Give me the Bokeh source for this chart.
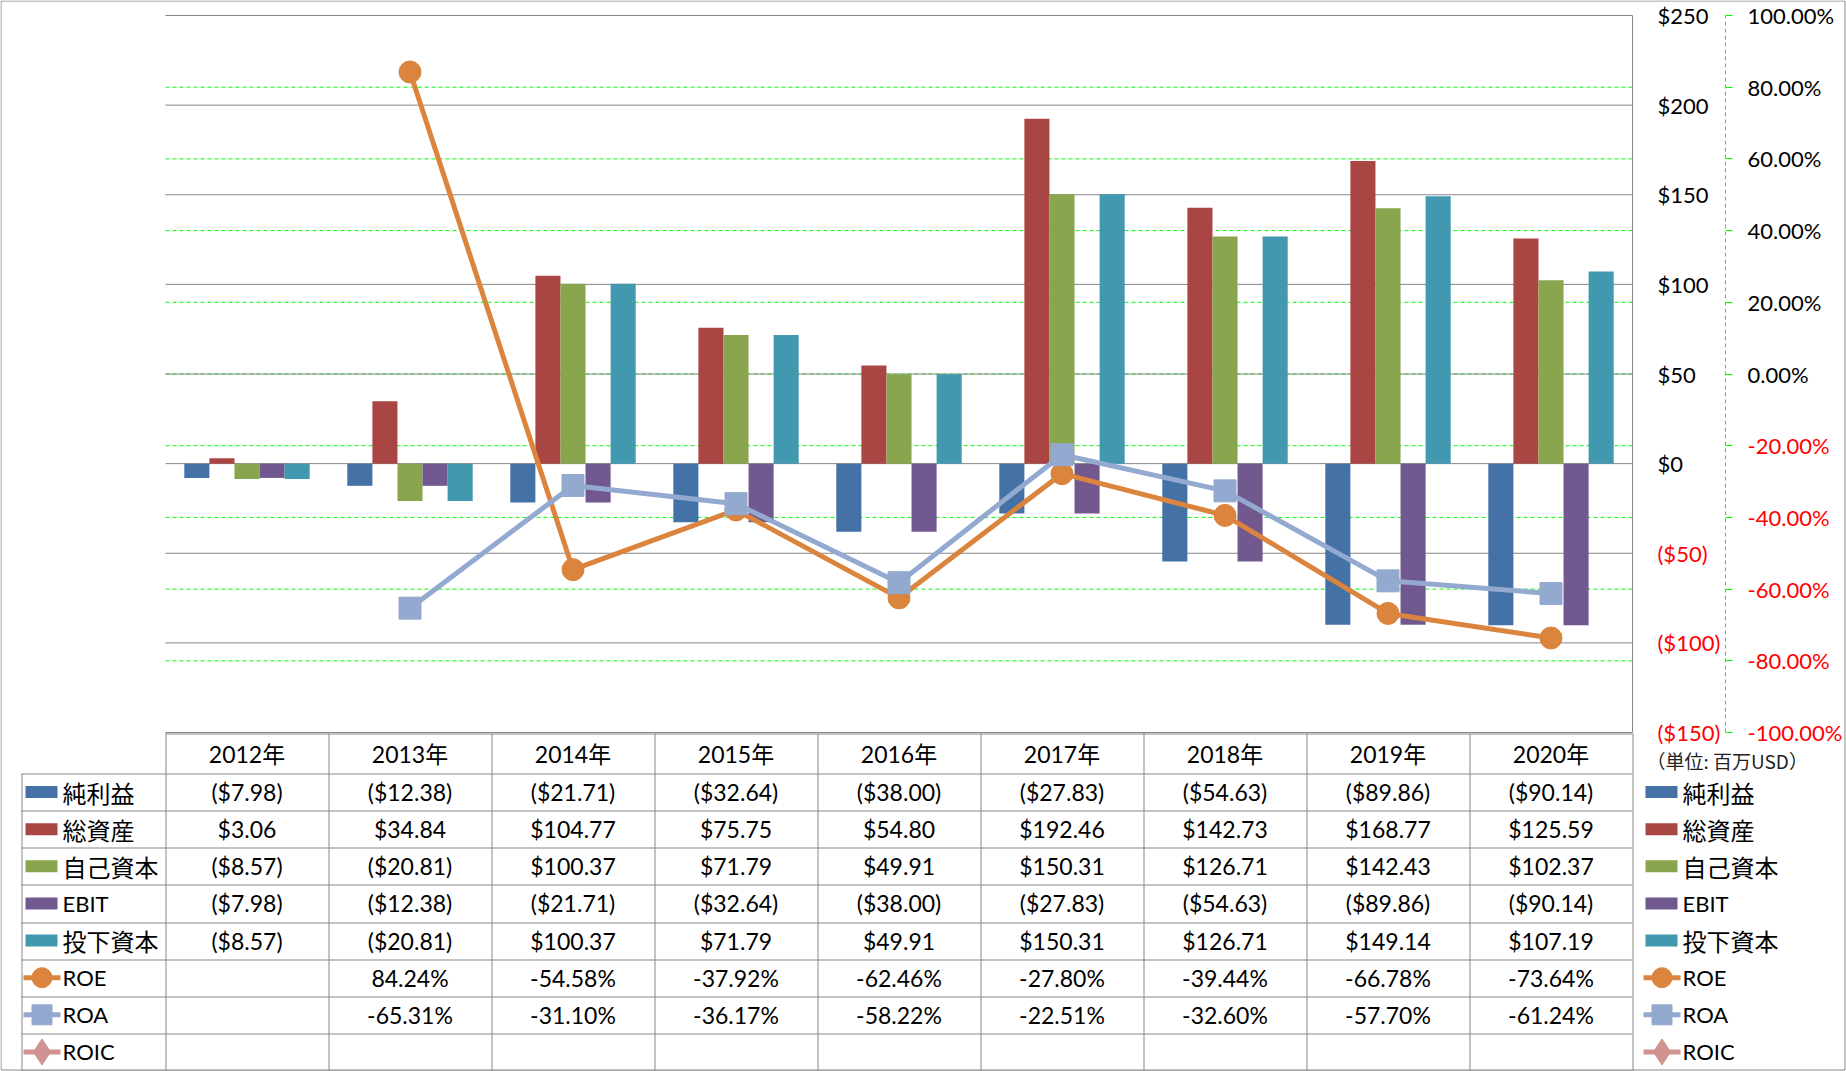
from bokeh.plotting import figure
from bokeh.models import Range1d, LinearAxis, FixedTicker
from bokeh.core.properties import value
from bokeh.embed import file_html
from bokeh.resources import INLINE

# ---------------- data ----------------
years = ["2012年", "2013年", "2014年", "2015年", "2016年", "2017年", "2018年", "2019年", "2020年"]
net_income = [-7.98, -12.38, -21.71, -32.64, -38.00, -27.83, -54.63, -89.86, -90.14]
total_assets = [3.06, 34.84, 104.77, 75.75, 54.80, 192.46, 142.73, 168.77, 125.59]
equity = [-8.57, -20.81, 100.37, 71.79, 49.91, 150.31, 126.71, 142.43, 102.37]
ebit = [-7.98, -12.38, -21.71, -32.64, -38.00, -27.83, -54.63, -89.86, -90.14]
invested_capital = [-8.57, -20.81, 100.37, 71.79, 49.91, 150.31, 126.71, 149.14, 107.19]
roe = [None, 84.24, -54.58, -37.92, -62.46, -27.80, -39.44, -66.78, -73.64]
roa = [None, -65.31, -31.10, -36.17, -58.22, -22.51, -32.60, -57.70, -61.24]
roic = [None, None, None, None, None, None, None, None, None]

usd_ticks = [250, 200, 150, 100, 50, 0, -50, -100, -150]
usd_tick_labels = ["$250", "$200", "$150", "$100", "$50", "$0", "($50)", "($100)", "($150)"]
pct_ticks = [1.0, 0.8, 0.6, 0.4, 0.2, 0.0, -0.2, -0.4, -0.6, -0.8, -1.0]
pct_tick_labels = ["100.00%", "80.00%", "60.00%", "40.00%", "20.00%", "0.00%",
                   "-20.00%", "-40.00%", "-60.00%", "-80.00%", "-100.00%"]
unit_label = "（単位: 百万USD）"

bar_series = [("純利益", net_income, "#4471A6"),
              ("総資産", total_assets, "#A94644"),
              ("自己資本", equity, "#89A54E"),
              ("EBIT", ebit, "#71588F"),
              ("投下資本", invested_capital, "#4198AF")]
line_series = [("ROE", roe, "#DB843D", "circle"),
               ("ROA", roa, "#93A9CF", "square"),
               ("ROIC", roic, "#D19392", "diamond")]

# ---------------- layout (page pixels) ----------------
W, H = 1846, 1071
OX, OY = 0, 0
PL, PR, PT, PB = 165, 1632, 15, 732
NCAT = len(years)
CW = (PR - PL) / NCAT
KY = (PB - PT) / 400.0
KP = (PB - PT) / 2.0
GRAY = "#878787"
LAT = value("Lato")
MIX = value("Lato, 'Noto Sans CJK JP'")
CJK = value("'Noto Sans CJK JP'")

p = figure(width=W, height=H, output_backend="svg", toolbar_location=None,
           x_range=Range1d((OX - PL) / CW, (OX + W - PL) / CW),
           y_range=Range1d(250 - (OY + H - PT) / KY, 250 + (PT - OY) / KY),
           x_axis_location=None, y_axis_location=None, min_border=0)
p.extra_y_ranges = {"pct": Range1d(1 - (OY + H - PT) / KP, 1 + (PT - OY) / KP),
                    "py": Range1d(OY + H, OY)}
p.extra_x_ranges = {"px": Range1d(OX, OX + W)}
p.grid.visible = False
p.outline_line_color = None
p.background_fill_color = "white"
p.border_fill_color = "white"

# gridlines
gp = [t for t in pct_ticks if abs(t) < 1]
p.segment(x0=[0] * len(gp), x1=[NCAT] * len(gp), y0=gp, y1=gp, y_range_name="pct",
          line_color="#00FF00", line_width=1, line_dash="4 3")
p.segment(x0=[0] * len(usd_ticks), x1=[NCAT] * len(usd_ticks), y0=usd_ticks, y1=usd_ticks,
          line_color=GRAY, line_width=1)

# bars
bw = 1 / 6.5
for k, (name, vals, col) in enumerate(bar_series):
    xs = [i + 0.5 + (k - 2) * bw for i in range(NCAT)]
    p.vbar(x=xs, top=vals, bottom=0, width=bw, fill_color=col, line_color=None)

# lines
for name, vals, col, mk in line_series:
    xs = [i + 0.5 for i, v in enumerate(vals) if v is not None]
    ys = [v / 100 for v in vals if v is not None]
    if not xs:
        continue
    p.line(x=xs, y=ys, y_range_name="pct", line_color=col, line_width=5)
    p.scatter(x=xs, y=ys, y_range_name="pct", marker=mk, size=22,
              fill_color=col, line_color=col, line_width=1)

# axes (right side, fixed locations)
def make_axis(ticks, labels, color, loc, rng=None, keep=lambda t: True, **kw):
    ax = LinearAxis(ticker=FixedTicker(ticks=ticks), fixed_location=loc,
                    major_label_overrides={t: (l if keep(t) else "") for t, l in zip(ticks, labels)},
                    major_label_text_font="Lato", major_label_text_font_size="22px",
                    major_label_text_color=color, minor_tick_line_color=None, **kw)
    if rng:
        ax.y_range_name = rng
    p.add_layout(ax, "right")
    return ax

make_axis(usd_ticks, usd_tick_labels, "black", NCAT, keep=lambda t: t >= 0,
          axis_line_color=GRAY, bounds=(-150, 250), major_tick_line_color=None,
          major_tick_out=0, major_tick_in=0, major_label_standoff=25)
make_axis(usd_ticks, usd_tick_labels, "#FF0000", NCAT, keep=lambda t: t < 0,
          axis_line_color=None, major_tick_line_color=None,
          major_tick_out=0, major_tick_in=0, major_label_standoff=25)
sec_loc = (1725 - PL) / CW
make_axis(pct_ticks, pct_tick_labels, "black", sec_loc, rng="pct", keep=lambda t: t >= 0,
          axis_line_color="#00FF00", axis_line_dash="4 3", bounds=(-1, 1),
          major_tick_line_color="#00FF00", major_tick_out=7, major_tick_in=0,
          major_label_standoff=15)
make_axis(pct_ticks, pct_tick_labels, "#FF0000", sec_loc, rng="pct", keep=lambda t: t < 0,
          axis_line_color=None, major_tick_line_color=None,
          major_tick_out=0, major_tick_in=0, major_label_standoff=22)

# ---------------- data table ----------------
HT, HB = 733, 773
TB = OY + H - 1
RH = (TB - HB) / 8
LX = 21
col_edges = [PL + j * CW for j in range(NCAT + 1)]
row_edges = [HB + i * RH for i in range(9)]

sx0, sx1, sy0, sy1 = [], [], [], []
sx0 += [PL]; sx1 += [PR]; sy0 += [HT + 0.5]; sy1 += [HT + 0.5]
for ry in row_edges:
    sx0.append(LX); sx1.append(PR); sy0.append(round(ry) + 0.5); sy1.append(round(ry) + 0.5)
sx0.append(LX + 0.5); sx1.append(LX + 0.5); sy0.append(HB); sy1.append(TB)
for cx in col_edges:
    x = round(cx) + 0.5
    sx0.append(x); sx1.append(x); sy0.append(HT); sy1.append(TB)
p.segment(x0=sx0, x1=sx1, y0=sy0, y1=sy1, x_range_name="px", y_range_name="py",
          line_color=GRAY, line_width=1)

def money(v):
    return f"${v:,.2f}" if v >= 0 else f"(${-v:,.2f})"

def pct(v):
    return "" if v is None else f"{v:.2f}%"

centers = [PL + (j + 0.5) * CW for j in range(NCAT)]
p.text(x=centers, y=[(HT + HB) / 2] * NCAT, text=years, x_range_name="px", y_range_name="py",
       text_font=MIX, text_font_size="23px", text_align="center", text_baseline="middle",
       text_color="black")

tx, ty, tt = [], [], []
rows_vals = [[money(v) for v in s[1]] for s in bar_series] + [[pct(v) for v in s[1]] for s in line_series]
for r, rv in enumerate(rows_vals):
    cy = HB + (r + 0.5) * RH
    for j, t in enumerate(rv):
        tx.append(centers[j]); ty.append(cy); tt.append(t)
p.text(x=tx, y=ty, text=tt, x_range_name="px", y_range_name="py",
       text_font=LAT, text_font_size="23px", text_align="center", text_baseline="middle",
       text_color="black")

# legend entries (table left column and right legend)
def legend_column(xs):
    for r, (name, col, kind, mk) in enumerate(
            [(s[0], s[2], "bar", None) for s in bar_series] +
            [(s[0], s[2], "line", s[3]) for s in line_series]):
        cy = HB + (r + 0.5) * RH
        if kind == "bar":
            p.quad(left=[xs], right=[xs + 32], top=[cy - 6], bottom=[cy + 6],
                   x_range_name="px", y_range_name="py", fill_color=col, line_color=None)
        else:
            p.segment(x0=[xs - 2], x1=[xs + 35], y0=[cy], y1=[cy], x_range_name="px",
                      y_range_name="py", line_color=col, line_width=5)
            p.scatter(x=[xs + 16.5], y=[cy], marker=mk, size=26 if mk == "diamond" else 20,
                      x_range_name="px", y_range_name="py", fill_color=col, line_color=col)
        cjk = any(ord(ch) > 0x3000 for ch in name)
        p.text(x=[xs + 37], y=[cy], text=[name], x_range_name="px", y_range_name="py",
               text_font=CJK if cjk else LAT, text_font_size="24px" if cjk else "22px",
               text_align="left", text_baseline="middle", text_color="black")

legend_column(25)
legend_column(1645)

p.text(x=[1646], y=[760], text=[unit_label], x_range_name="px", y_range_name="py",
       text_font=CJK, text_font_size="19px", text_align="left", text_baseline="middle",
       text_color="#222222")

# outer chart border
p.quad(left=[OX + 0.5], right=[OX + W - 1.5], top=[OY + 0.5], bottom=[OY + H - 1.5],
       x_range_name="px", y_range_name="py", fill_color=None, line_color=GRAY, line_width=1)

open("out.html", "w").write(file_html(p, INLINE))
